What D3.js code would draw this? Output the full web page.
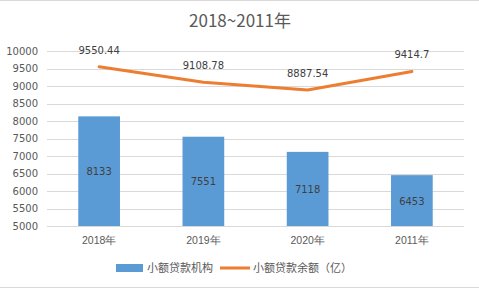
<!DOCTYPE html>
<html>
<head>
<meta charset="utf-8">
<script src="https://cdn.jsdelivr.net/npm/d3@7"></script>
<style>
body { margin: 0; background: #fff; }
svg { display: block; font-family: "Noto Sans CJK SC", "DejaVu Sans", sans-serif; }
</style>
</head>
<body>
<div id="chart"></div>
<script>
var width = 479,
	height = 289;

// data
var years = ["2018年", "2019年", "2020年", "2011年"];
var institutions = [8133, 7551, 7118, 6453];
var balance = [9550.44, 9108.78, 8887.54, 9414.7];
var yTicks = [5000, 5500, 6000, 6500, 7000, 7500, 8000, 8500, 9000, 9500, 10000];
var legendNames = ["小额贷款机构", "小额贷款余额（亿）"];

var textColor = "#595959";

var svg = d3.select("#chart")
	.append("svg")
	.attr("width", width)
	.attr("height", height);

// outer border lines
svg.append("line").attr("x1", 0).attr("x2", width).attr("y1", 0.5).attr("y2", 0.5)
	.attr("stroke", "#d9d9d9");
svg.append("line").attr("x1", 0).attr("x2", width).attr("y1", height - 1.5).attr("y2", height - 1.5)
	.attr("stroke", "#d9d9d9");

// title
svg.append("text")
	.attr("x", 240)
	.attr("y", 27)
	.attr("text-anchor", "middle")
	.attr("fill", textColor)
	.style("font-size", "17px")
	.text("2018~2011年");

//scales
var x = d3.scaleBand()
	.domain(years)
	.range([47, 464])
	.paddingInner(0.6)
	.paddingOuter(0.3);

var y = d3.scaleLinear()
	.domain([5000, 10000])
	.range([226, 51]);

// gridlines
svg.append("g")
	.selectAll("line")
	.data(yTicks)
	.enter()
	.append("line")
	.attr("x1", 47)
	.attr("x2", 464)
	.attr("y1", function(d){ return Math.round(y(d)) + 0.5; })
	.attr("y2", function(d){ return Math.round(y(d)) + 0.5; })
	.attr("stroke", "#d9d9d9")
	.attr("stroke-width", 1);

// y axis
var yAxis = svg.append("g")
	.attr("transform", "translate(40,0)")
	.call(d3.axisLeft(y).tickValues(yTicks).tickFormat(d3.format("d")).tickSize(0).tickPadding(2));
yAxis.select(".domain").remove();
yAxis.selectAll("text")
	.attr("fill", textColor)
	.style("font-size", "10px")
	.style("font-family", "'DejaVu Sans', sans-serif");

// x axis
var xAxis = svg.append("g")
	.attr("transform", "translate(0,235)")
	.call(d3.axisBottom(x).tickSize(0).tickPadding(2));
xAxis.select(".domain").remove();
xAxis.selectAll("text")
	.attr("fill", textColor)
	.style("font-size", "10.5px");

// bars
svg.append("g")
	.selectAll("rect")
	.data(institutions)
	.enter()
	.append("rect")
	.attr("x", function(d, i){ return x(years[i]); })
	.attr("y", function(d){ return y(d); })
	.attr("width", x.bandwidth())
	.attr("height", function(d){ return y(5000) - y(d); })
	.attr("fill", "#5B9BD5");

svg.append("g")
	.selectAll("text")
	.data(institutions)
	.enter()
	.append("text")
	.attr("x", function(d, i){ return x(years[i]) + x.bandwidth() / 2; })
	.attr("y", function(d){ return (y(d) + y(5000)) / 2 + 4; })
	.attr("text-anchor", "middle")
	.attr("fill", "#404040")
	.style("font-size", "10px")
	.style("font-family", "'DejaVu Sans', sans-serif")
	.text(function(d){ return d; });

// line
var line = d3.line()
	.x(function(d, i){ return x(years[i]) + x.bandwidth() / 2; })
	.y(function(d){ return y(d); });

svg.append("path")
	.datum(balance)
	.attr("d", line)
	.attr("fill", "none")
	.attr("stroke", "#ED7D31")
	.attr("stroke-width", 3)
	.attr("stroke-linejoin", "round")
	.attr("stroke-linecap", "round");

svg.append("g")
	.selectAll("text")
	.data(balance)
	.enter()
	.append("text")
	.attr("x", function(d, i){ return x(years[i]) + x.bandwidth() / 2; })
	.attr("y", function(d){ return y(d) - 13; })
	.attr("text-anchor", "middle")
	.attr("fill", "#404040")
	.style("font-size", "10px")
	.style("font-family", "'DejaVu Sans', sans-serif")
	.text(function(d){ return d; });

// legend
var legend = svg.append("g");
legend.append("rect")
	.attr("x", 116).attr("y", 264)
	.attr("width", 27).attr("height", 8)
	.attr("fill", "#5B9BD5");
legend.append("text")
	.attr("x", 147).attr("y", 272)
	.attr("fill", textColor)
	.style("font-size", "11px")
	.text(legendNames[0]);
legend.append("line")
	.attr("x1", 220).attr("x2", 250)
	.attr("y1", 268).attr("y2", 268)
	.attr("stroke", "#ED7D31")
	.attr("stroke-width", 3);
legend.append("text")
	.attr("x", 253).attr("y", 272)
	.attr("fill", textColor)
	.style("font-size", "11px")
	.text(legendNames[1]);
</script>
</body>
</html>
